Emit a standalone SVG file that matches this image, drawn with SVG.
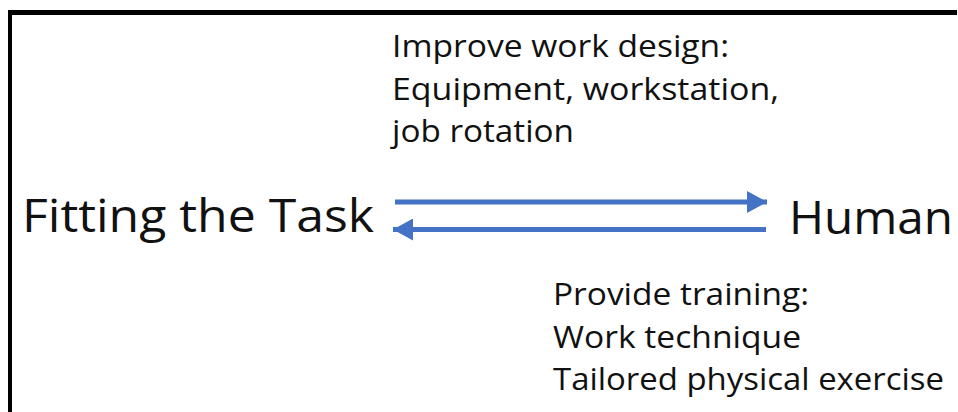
<svg xmlns="http://www.w3.org/2000/svg" width="958" height="412" viewBox="0 0 958 412">
  <style>
    .big { font-family: "Open Sans", "Noto Sans", "Liberation Sans", sans-serif; font-size: 46px; fill: #111; }
    .note { font-family: "Open Sans", "Noto Sans", "Liberation Sans", sans-serif; font-size: 31.5px; fill: #111; }
    .frame { fill: #000; }
    .arrow { stroke: #4472C4; stroke-width: 5; fill: none; }
  </style>
  <defs>
    <marker id="head" viewBox="0 0 20 22" refX="20" refY="11" markerWidth="20" markerHeight="22" markerUnits="userSpaceOnUse" orient="auto">
      <path d="M0,0 L20,11 L0,22 Z" fill="#4472C4"/>
    </marker>
  </defs>

  <rect width="958" height="412" fill="#fff"/>

  <!-- frame edges: top and left -->
  <g id="frame">
    <rect class="frame" x="8" y="10" width="949" height="5"/>
    <rect class="frame" x="8" y="10" width="4" height="402"/>
  </g>

  <g id="node-fitting">
    <text class="big" x="22" y="232" textLength="352" lengthAdjust="spacingAndGlyphs">Fitting the Task</text>
  </g>

  <g id="node-human">
    <text class="big" x="789" y="234" textLength="164" lengthAdjust="spacingAndGlyphs">Human</text>
  </g>

  <g id="note-work-design">
    <text class="note" x="392" y="57" textLength="337" lengthAdjust="spacingAndGlyphs">Improve work design:</text>
    <text class="note" x="392" y="99.5" textLength="387" lengthAdjust="spacingAndGlyphs">Equipment, workstation,</text>
    <text class="note" x="392" y="142" textLength="182" lengthAdjust="spacingAndGlyphs">job rotation</text>
  </g>

  <g id="note-training">
    <text class="note" x="553" y="305" textLength="256" lengthAdjust="spacingAndGlyphs">Provide training:</text>
    <text class="note" x="553" y="347.5" textLength="248" lengthAdjust="spacingAndGlyphs">Work technique</text>
    <text class="note" x="553" y="390" textLength="391" lengthAdjust="spacingAndGlyphs">Tailored physical exercise</text>
  </g>

  <g id="connectors">
    <line class="arrow" x1="395" y1="202" x2="767" y2="202" marker-end="url(#head)"/>
    <line class="arrow" x1="766" y1="229.5" x2="393" y2="229.5" marker-end="url(#head)"/>
  </g>
</svg>
